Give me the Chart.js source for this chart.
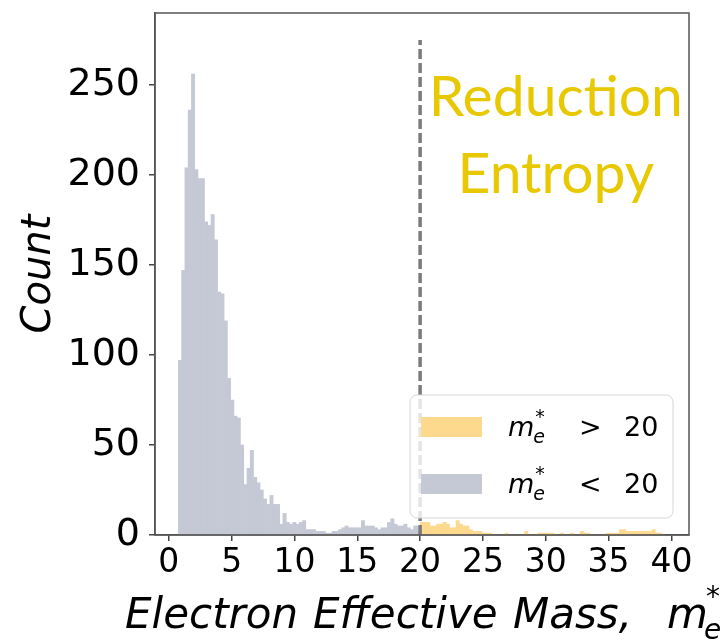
<!DOCTYPE html>
<html>
<head>
<meta charset="utf-8">
<script src="https://cdn.jsdelivr.net/npm/chart.js@4.4.1/dist/chart.umd.min.js"></script>
<style>
  html, body { margin: 0; padding: 0; background: #fff; }
  #wrap { width: 721px; height: 642px; }
</style>
</head>
<body>
<div id="wrap"><canvas id="hist" width="721" height="642"></canvas></div>
<script>
// histogram bins (effective mass), all bins share one width
const binStart = 0.76
const binWidth = 0.26
const cutoff = 20

// counts for m* < 20
const lowCounts = [
  97, 147, 204, 236, 256, 203, 198, 198, 174, 172,
  178, 164, 135, 134, 119, 87, 75, 66, 65, 50,
  28, 37, 47, 32, 29, 25, 20, 17, 22, 17,
  17, 6, 12, 7, 6, 7, 6,
  7, 8, 3, 3, 3, 2, 2, 2, 1, 1, 2, 2, 3, 4, 5, 4, 4, 4, 4, 8,
  5, 5, 5, 4, 3, 4, 4, 7, 9, 6, 5, 5, 6, 4, 3, 5, 5
]
// counts for m* > 20
const highCounts = [
  7, 7, 7, 5, 5, 6, 6, 7, 6, 4,
  4, 8, 6, 5, 5, 3, 2, 2, 2, 1,
  1, 1, 0, 0, 0, 0, 1, 0, 0, 0,
  0, 0, 2, 0, 0, 0, 1, 1, 1, 1,
  1, 0, 0, 1, 0, 0, 1, 0, 0, 2,
  1, 1, 0, 0, 0, 0, 0, 1, 1, 1,
  1, 3, 3, 2, 2, 2, 2, 2, 2, 2,
  2, 3, 1, 1, 0
]
const cutoffLineTop = 275

const xTicks = [0, 5, 10, 15, 20, 25, 30, 35, 40]
const yTicks = [0, 50, 100, 150, 200, 250]
const xLabelWords = ['Electron', 'Effective', 'Mass,']

const lowColor = '#c5c8d5'
const highColor = '#fdd98e'

const lowPoints = lowCounts.map((c, i) => ({ x: binStart + (i + 0.5) * binWidth, y: c }))
const highStart = binStart + lowCounts.length * binWidth
const highPoints = highCounts.map((c, i) => ({ x: highStart + (i + 0.5) * binWidth, y: c }))

const font = '"DejaVu Sans", sans-serif'

// frame, annotation, legend and the math-style x label
const decorations = {
  id: 'decorations',
  afterDraw(chart) {
    const { ctx, chartArea: a, scales } = chart
    ctx.save()
    ctx.strokeStyle = '#555'
    ctx.lineWidth = 1.5
    ctx.strokeRect(a.left, a.top, a.right - a.left, a.bottom - a.top)

    // Reduction Entropy
    ctx.fillStyle = '#e8c800'
    ctx.font = '57px Lato, "Open Sans", sans-serif'
    ctx.textAlign = 'center'
    ctx.textBaseline = 'alphabetic'
    const cx = scales.x.getPixelForValue(30.8)
    ctx.fillText('Reduction', cx, scales.y.getPixelForValue(233))
    ctx.fillText('Entropy', cx, scales.y.getPixelForValue(190))

    // legend
    const bw = 263, bh = 123
    const bx = a.right - 16 - bw, by = a.bottom - 17 - bh
    ctx.beginPath()
    ctx.roundRect(bx, by, bw, bh, 7)
    ctx.fillStyle = 'rgba(255,255,255,0.8)'
    ctx.fill()
    ctx.strokeStyle = '#d6d6d6'
    ctx.lineWidth = 1
    ctx.stroke()
    const rows = [[highColor, '>'], [lowColor, '<']]
    rows.forEach(([color, sign], k) => {
      const cy = by + 32 + k * 57
      ctx.fillStyle = color
      ctx.fillRect(bx + 11, cy - 10, 61, 20)
      ctx.fillStyle = '#000'
      ctx.textAlign = 'left'
      const base = cy + 9
      let x = bx + 98
      ctx.font = 'italic 27px ' + font
      ctx.fillText('m', x, base)
      x += ctx.measureText('m').width
      ctx.font = 'italic 19px ' + font
      ctx.fillText('e', x - 1, base + 7)
      ctx.font = '19px ' + font
      ctx.fillText('*', x + 1, base - 13)
      ctx.font = '27px ' + font
      ctx.fillText(sign, bx + 169, base)
      ctx.fillText('20', bx + 214, base)
    })

    // x axis label, words spaced like the mathtext original
    ctx.fillStyle = '#000'
    ctx.textAlign = 'left'
    ctx.font = 'italic 42px ' + font
    const wordX = [a.left - 30, a.left + 158, a.left + 358]
    xLabelWords.forEach((w, i) => ctx.fillText(w, wordX[i], 628))
    let lx = a.right - 22
    ctx.fillText('m', lx, 628)
    lx += ctx.measureText('m').width
    ctx.font = 'italic 28px ' + font
    ctx.fillText('e', lx - 4, 639)
    ctx.font = '28px ' + font
    ctx.fillText('*', lx - 2, 606)
    ctx.restore()
  }
}

new Chart(document.getElementById('hist'), {
  type: 'bar',
  data: {
    datasets: [
      { type: 'line', label: 'cutoff', data: [{ x: cutoff, y: 0 }, { x: cutoff, y: cutoffLineTop }],
        borderColor: '#7b7b7b', borderWidth: 3.5, borderDash: [10, 4], pointRadius: 0, order: 0 },
      { label: 'm* > 20', data: highPoints, backgroundColor: highColor, borderWidth: 0,
        grouped: false, barPercentage: 1, categoryPercentage: 1, order: 1 },
      { label: 'm* < 20', data: lowPoints, backgroundColor: lowColor, borderWidth: 0,
        grouped: false, barPercentage: 1, categoryPercentage: 1, order: 2 }
    ]
  },
  options: {
    responsive: false,
    animation: false,
    devicePixelRatio: 1,
    layout: { padding: { top: 13, right: 32, left: 0, bottom: 0 } },
    plugins: { legend: { display: false }, tooltip: { enabled: false } },
    scales: {
      x: {
        type: 'linear', min: -1.1, max: 41.4, offset: false,
        grid: { offset: false, drawOnChartArea: false, tickLength: 6, color: '#444', lineWidth: 1.5 },
        border: { color: '#555', width: 1.5 },
        ticks: { color: '#000', font: { family: 'DejaVu Sans', size: 33 }, padding: 3, maxRotation: 0, autoSkip: false },
        afterBuildTicks: s => { s.ticks = xTicks.map(v => ({ value: v })) },
        afterFit: s => { s.height = 107; s.paddingLeft = 0; s.paddingRight = 0 }
      },
      y: {
        min: 0, max: 290,
        grid: { drawOnChartArea: false, tickLength: 6, color: '#444', lineWidth: 1.5 },
        border: { color: '#555', width: 1.5 },
        ticks: { color: '#000', font: { family: 'DejaVu Sans', size: 38 }, padding: 9 },
        afterBuildTicks: s => { s.ticks = yTicks.map(v => ({ value: v })) },
        title: { display: true, text: 'Count', color: '#000', padding: { top: 16, bottom: 0 },
          font: { family: 'DejaVu Sans', size: 40, style: 'italic' } },
        afterFit: s => { s.width = 155; s.paddingTop = 0; s.paddingBottom = 0 }
      }
    }
  },
  plugins: [decorations]
})
</script>
</body>
</html>
